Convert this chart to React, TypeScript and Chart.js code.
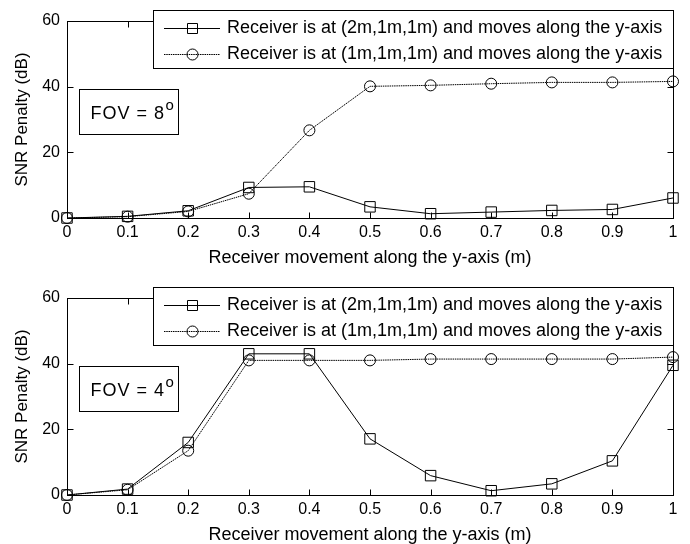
import React, { useEffect, useRef } from "react";
import { Chart, registerables } from "chart.js";

Chart.register(...registerables);

const xValues = [0, 0.1, 0.2, 0.3, 0.4, 0.5, 0.6, 0.7, 0.8, 0.9, 1];
const xTicks = [0, 0.1, 0.2, 0.3, 0.4, 0.5, 0.6, 0.7, 0.8, 0.9, 1];
const yTicks = [0, 20, 40, 60];

// FOV = 8 degrees (top panel)
const fov8Square = [0, 0.5, 2.2, 9.3, 9.5, 3.4, 1.3, 1.8, 2.3, 2.6, 6.1];
const fov8Circle = [0, 0.4, 2.0, 7.4, 26.7, 40.1, 40.4, 40.9, 41.3, 41.3, 41.6];
// FOV = 4 degrees (bottom panel)
const fov4Square = [0, 1.8, 16.0, 43.0, 43.0, 17.1, 5.9, 1.3, 3.4, 10.4, 39.5];
const fov4Circle = [0, 1.6, 13.5, 41.0, 41.0, 41.0, 41.4, 41.4, 41.4, 41.4, 42.0];

const legendLabels = [
  "Receiver is at (2m,1m,1m) and moves along the y-axis",
  "Receiver is at (1m,1m,1m) and moves along the y-axis",
];
const xTitle = "Receiver movement along the y-axis (m)";
const yTitle = "SNR Penalty (dB)";
const fovLabels = ["8", "4"];

const FONT = "'Liberation Sans', Arial, Helvetica, sans-serif";
Chart.defaults.font.family = FONT;
Chart.defaults.color = "#000";

const CANVAS_W = 690;
const CANVAS_H = 267;
const CIRCLE_DASH = [1.5, 0.75];

function fmtTick(v: number) {
  return String(Number(v.toFixed(1)));
}

function decorPlugin(fov: string) {
  return {
    id: "decor" + fov,
    beforeDatasetsDraw(chart: any) {
      const { ctx, chartArea } = chart;
      const { left, right, top, bottom } = chartArea;
      const xs = chart.scales.x;
      const ys = chart.scales.y;
      const L = Math.round(left) + 0.5;
      const R = Math.round(right) + 0.5;
      const T = Math.round(top) + 0.5;
      const B = Math.round(bottom) + 0.5;
      ctx.save();
      ctx.strokeStyle = "#000";
      ctx.lineWidth = 1;
      ctx.strokeRect(L, T, R - L, B - T);
      const tl = 6;
      ctx.beginPath();
      xTicks.forEach((v) => {
        const px = Math.round(xs.getPixelForValue(v)) + 0.5;
        ctx.moveTo(px, B);
        ctx.lineTo(px, B - tl);
        ctx.moveTo(px, T);
        ctx.lineTo(px, T + tl);
      });
      yTicks.forEach((v) => {
        const py = Math.round(ys.getPixelForValue(v)) + 0.5;
        ctx.moveTo(L, py);
        ctx.lineTo(L + tl, py);
        ctx.moveTo(R, py);
        ctx.lineTo(R - tl, py);
      });
      ctx.stroke();
      ctx.restore();
    },
    afterDatasetsDraw(chart: any) {
      const { ctx, chartArea } = chart;
      const { left, right, top } = chartArea;
      ctx.save();
      ctx.strokeStyle = "#000";
      ctx.fillStyle = "#fff";
      ctx.lineWidth = 1;
      // legend box
      const bx = 153.5;
      const by = Math.round(top - 11.5) + 0.5;
      const bw = Math.round(right) + 0.5 - bx;
      const bh = 58;
      ctx.fillRect(bx, by, bw, bh);
      ctx.strokeRect(bx, by, bw, bh);
      const rows = [by + 17, by + 43];
      rows.forEach((ry, i) => {
        const yy = Math.round(ry) + 0.5;
        ctx.save();
        ctx.strokeStyle = "#000";
        ctx.lineWidth = 1;
        if (i === 1) ctx.setLineDash(CIRCLE_DASH);
        ctx.beginPath();
        ctx.moveTo(164, yy);
        ctx.lineTo(220, yy);
        ctx.stroke();
        ctx.setLineDash([]);
        ctx.beginPath();
        if (i === 0) {
          ctx.rect(187.5, yy - 5, 10, 10);
        } else {
          ctx.arc(192.5, yy, 5.5, 0, Math.PI * 2);
        }
        ctx.stroke();
        ctx.restore();
        ctx.fillStyle = "#000";
        ctx.font = "18px " + FONT;
        ctx.textAlign = "left";
        ctx.textBaseline = "middle";
        ctx.fillText(legendLabels[i], 227, ry + 0.5);
      });
      // FOV box
      const fx = Math.round(left) + 12.5;
      const fy = Math.round(top) + 68.5;
      ctx.fillStyle = "#fff";
      ctx.fillRect(fx, fy, 99, 45);
      ctx.strokeRect(fx, fy, 99, 45);
      ctx.fillStyle = "#000";
      ctx.font = "18px " + FONT;
      ctx.textAlign = "left";
      ctx.textBaseline = "middle";
      const main = "FOV = " + fov;
      (ctx as any).letterSpacing = "1px";
      ctx.fillText(main, fx + 11, fy + 24.5);
      const w = ctx.measureText(main).width;
      (ctx as any).letterSpacing = "0px";
      ctx.font = "15px " + FONT;
      ctx.fillText("o", fx + 11 + w + 0.5, fy + 16);
      ctx.restore();
    },
  };
}

function makeConfig(sq: number[], ci: number[], fov: string): any {
  return {
    type: "line",
    data: {
      datasets: [
        {
          label: legendLabels[0],
          data: xValues.map((x, i) => ({ x, y: sq[i] })),
          borderColor: "#000",
          borderWidth: 1,
          pointStyle: "rect",
          pointRadius: 7.4,
          pointBorderColor: "#000",
          pointBackgroundColor: "rgba(0,0,0,0)",
          pointBorderWidth: 1,
          fill: false,
          tension: 0,
          clip: false,
        },
        {
          label: legendLabels[1],
          data: xValues.map((x, i) => ({ x, y: ci[i] })),
          borderColor: "#000",
          borderWidth: 1,
          borderDash: CIRCLE_DASH,
          pointStyle: "circle",
          pointRadius: 5.5,
          pointBorderColor: "#000",
          pointBackgroundColor: "rgba(0,0,0,0)",
          pointBorderWidth: 1,
          fill: false,
          tension: 0,
          clip: false,
        },
      ],
    },
    options: {
      animation: false,
      responsive: false,
      maintainAspectRatio: false,
      layout: { padding: { top: 21, right: 17, left: 0, bottom: 0 } },
      plugins: {
        legend: { display: false },
        tooltip: { enabled: false },
        title: { display: false },
      },
      scales: {
        x: {
          type: "linear",
          min: 0,
          max: 1,
          afterBuildTicks: (s: any) => {
            s.ticks = xTicks.map((v) => ({ value: v }));
          },
          afterFit: (s: any) => {
            s.height = 49;
          },
          ticks: {
            callback: (v: any) => fmtTick(Number(v)),
            font: { size: 16 },
            color: "#000",
            padding: 5,
            maxRotation: 0,
            autoSkip: false,
          },
          grid: { display: false, drawTicks: false },
          border: { display: false },
          title: {
            display: true,
            text: xTitle,
            color: "#000",
            font: { size: 18, lineHeight: 1.0 },
            padding: { top: 0, bottom: 0 },
          },
        },
        y: {
          type: "linear",
          min: 0,
          max: 60,
          afterBuildTicks: (s: any) => {
            s.ticks = yTicks.map((v) => ({ value: v }));
          },
          afterFit: (s: any) => {
            s.width = 67;
          },
          ticks: {
            callback: (v: any) => String(v),
            font: { size: 16 },
            color: "#000",
            padding: 7,
          },
          grid: { display: false, drawTicks: false },
          border: { display: false },
          title: {
            display: true,
            text: yTitle,
            color: "#000",
            font: { size: 17 },
            padding: { top: 12, bottom: 0 },
          },
        },
      },
    },
    plugins: [decorPlugin(fov)],
  };
}

function Panel({ sq, ci, fov, top }: { sq: number[]; ci: number[]; fov: string; top: number }) {
  const ref = useRef<HTMLCanvasElement | null>(null);
  useEffect(() => {
    if (!ref.current) return;
    const chart = new Chart(ref.current, makeConfig(sq, ci, fov));
    return () => chart.destroy();
  }, [sq, ci, fov]);
  return (
    <canvas
      ref={ref}
      width={CANVAS_W}
      height={CANVAS_H}
      style={{ position: "absolute", left: 0, top, width: CANVAS_W, height: CANVAS_H }}
    />
  );
}

export default function App() {
  return (
    <div
      style={{
        position: "fixed",
        left: 0,
        top: 0,
        width: 690,
        height: 544,
        background: "#fff",
        overflow: "hidden",
      }}
    >
      <Panel sq={fov8Square} ci={fov8Circle} fov={fovLabels[0]} top={0} />
      <Panel sq={fov4Square} ci={fov4Circle} fov={fovLabels[1]} top={277} />
    </div>
  );
}
